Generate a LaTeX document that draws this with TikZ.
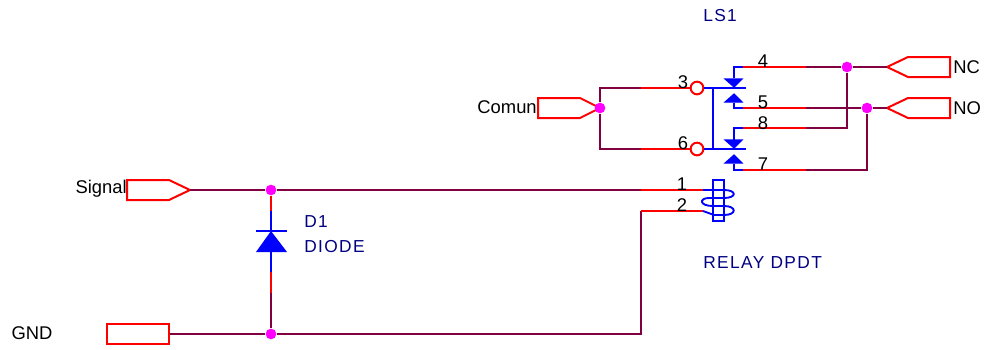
\documentclass[tikz,border=0pt]{standalone}
\usepackage{fontspec}
\setmainfont{Liberation Sans}
\newfontfamily\reffont[LetterSpace=8]{Liberation Sans}
\definecolor{wirecol}{RGB}{128,0,64}
\definecolor{labelcol}{RGB}{0,0,128}
\definecolor{dotcol}{RGB}{255,0,255}
\definecolor{pinred}{RGB}{255,0,0}
\definecolor{partblue}{RGB}{0,0,255}
\tikzset{
  wire/.style={wirecol,line width=1.4pt},
  pin/.style={pinred,line width=1.6pt},
  part/.style={partblue,line width=1.4pt},
  port/.style={pinred,line width=1.5pt,line join=miter},
  tri/.style={partblue,fill=partblue,line width=0.8pt,line join=miter},
  dot/.style={circle,fill=dotcol,inner sep=0,minimum size=8pt},
  ring/.style={circle,draw=pinred,line width=1.5pt,fill=white,inner sep=0,minimum size=9.5pt},
  txt/.style={inner sep=0,font=\fontsize{13.8}{15}\selectfont,black},
  reftxt/.style={inner sep=0,font=\reffont\fontsize{13}{15}\selectfont,text=labelcol}
}
\begin{document}
\begin{tikzpicture}[x=0.75pt,y=-0.75pt]
\useasboundingbox (0,0) rectangle (990,350);
% ports
\coordinate(TS)at(190,190);
\coordinate(TC)at(600,108);
\coordinate(TNC)at(887,67);
\coordinate(TNO)at(887,108);
\draw[port](TS)--(169,180)--(127,180)--(127,200)--(169,200)--cycle;
\draw[port](TC)--(580,98)--(538,98)--(538,118)--(580,118)--cycle;
\draw[port](TNC)--(908,57)--(950,57)--(950,77)--(908,77)--cycle;
\draw[port](TNO)--(908,98)--(950,98)--(950,118)--(908,118)--cycle;
\node[draw=pinred,line width=1.5pt,minimum width=46.5pt,minimum height=15.5pt,inner sep=0](PG)at(138,334){};
% junctions and free ends
\node[dot](JS)at(271,190){};
\node[dot](JG)at(271,334){};
\node[dot](JC)at(600,108){};
\node[dot](JNC)at(847,67){};
\node[dot](JNO)at(867,108){};
\coordinate(P1)at(641,190);
\coordinate(P2)at(641,211);
\coordinate(P3)at(641,88);
\coordinate(P6)at(641,149);
\coordinate(P4)at(806,67);
\coordinate(P5)at(806,108);
\coordinate(P8)at(806,128);
\coordinate(P7)at(806,170);
\coordinate(C1)at(703,190);
\coordinate(C2)at(703,211);
\coordinate(T4)at(743,67);
\coordinate(T5)at(743,108);
\coordinate(T8)at(743,128);
\coordinate(T7)at(743,170);
\node[ring](R3)at(697,88){};
\node[ring](R6)at(697,149){};
% wires
\draw[wire](TS)--(JS)--(P1);
\draw[wire](PG)--(JG)--(641,334)--(P2);
\draw[wire](P3)-|(JC);
\draw[wire](P6)-|(JC);
\draw[wire](P4)--(JNC)--(TNC);
\draw[wire](P5)--(JNO)--(TNO);
\draw[wire](P8)-|(JNC);
\draw[wire](P7)-|(JNO);
% pins
\draw[pin](P1)--(C1);
\draw[pin](P2)--(C2);
\draw[pin](P3)--(R3);
\draw[pin](P6)--(R6);
\draw[pin](T4)--(P4);
\draw[pin](T5)--(P5);
\draw[pin](T8)--(P8);
\draw[pin](T7)--(P7);
% diode
\draw[wire](271,293)--(JG);
\draw[pin](JS)--(271,211);
\draw[pin](271,272)--(271,293);
\draw[part](271,211)--(271,272);
\draw[part](256,231)--(287,231);
\fill[partblue](271,231)--(287,252)--(256,252)--cycle;
% contacts
\draw[part](R3)--(746,88);
\draw[part](R6)--(746,149);
\draw[part](713,88)--(713,149);
\draw[part](T4)-|(734,78);
\draw[part](T5)-|(734,103);
\draw[part](T8)-|(734,140);
\draw[part](T7)-|(734,164);
\draw[tri](725,79)--(742,79)--(734,87)--cycle;
\draw[tri](725,102)--(742,102)--(734,94)--cycle;
\draw[tri](725,140)--(742,140)--(734,148)--cycle;
\draw[tri](725,163)--(742,163)--(734,155)--cycle;
% coil
\draw[part](713,180)rectangle(724,221);
\draw[part](C1)--(724,190)..controls(737,190)and(737,198)..(724,198)--(709,198)
  ..controls(699,198)and(699,206)..(713,206)--(724,206)
  ..controls(737,206)and(737,215)..(724,215)--(714,215)--(C2);
% texts
\node[txt,anchor=east](LS)at(127,189){Signal};
\node[txt](LG)at(32,333){GND};
\node[txt,anchor=east](LC)at(537,107){Comun};
\node[txt,anchor=west](LNC)at(953,67){NC};
\node[txt,anchor=west](LNO)at(953,108){NO};
\node[reftxt,anchor=west](LD)at(304,222){D1};
\node[reftxt,anchor=west](LDD)at(304,247){DIODE};
\node[reftxt,anchor=west](LLS)at(703,16){LS1};
\node[reftxt,anchor=west](LR)at(703,263){RELAY DPDT};
\node[txt](N3)at(683,82){3};
\node[txt](N6)at(683,143){6};
\node[txt](N4)at(763,61){4};
\node[txt](N5)at(763,102){5};
\node[txt](N8)at(763,123){8};
\node[txt](N7)at(763,164){7};
\node[txt](N1)at(682,184){1};
\node[txt](N2)at(682,205){2};
\end{tikzpicture}
\end{document}
